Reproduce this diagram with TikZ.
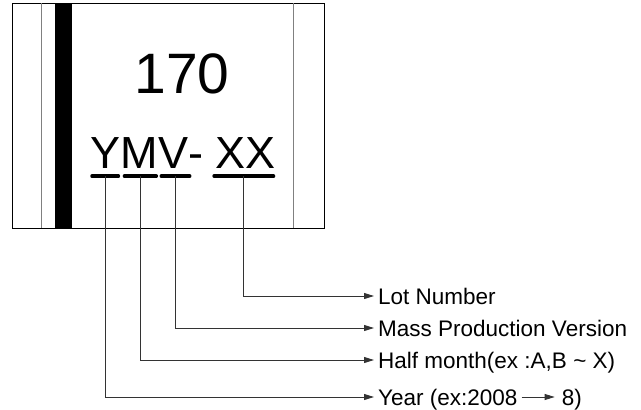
\documentclass[tikz,border=0pt]{standalone}
\usepackage{fontspec}
\setmainfont{Liberation Sans}
\usetikzlibrary{arrows.meta,positioning}
\begin{document}
\begin{tikzpicture}[x=1pt,y=-1pt,
  lead/.style={draw=black!80,line width=0.9pt,-{Triangle[length=10pt,width=6pt]}},
  uline/.style={line width=3.5pt,line cap=round},
  lbl/.style={anchor=west,inner xsep=4pt,inner ysep=0pt,text height=16pt,text depth=0pt,font=\fontsize{22.5}{27}\selectfont},
  big/.style={inner sep=0pt,anchor=base west,font=\fontsize{45}{54}\selectfont}]
\useasboundingbox (0,0) rectangle (641,410);

% package outline
\draw[line width=1pt] (12,3) rectangle (324,228);
\draw[gray,line width=1pt] (41,3)--(41,228) (293,3)--(293,228);
\fill (55,3) rectangle (72,228);

\node[inner sep=0pt,anchor=base,font=\fontsize{57}{68}\selectfont] (num) at (182,93) {170};

% marking code
\node[big] (y) at (90,168) {Y};
\node[big] (m) at (y.base east) {M};
\node[big] (v) at (m.base east) {V};
\node[big] (dash) at (v.base east) {-};
\node[big,xshift=11pt] (xx) at (dash.base east) {XX};

\draw[uline] ([shift={(2,8)}]y.south west)--([shift={(-2,8)}]y.south east) coordinate[midway] (uy);
\draw[uline] ([shift={(4,8)}]m.south west)--([shift={(-2,8)}]m.south east) coordinate[midway] (um);
\draw[uline] ([shift={(3,8)}]v.south west)--([shift={(1,8)}]v.south east) coordinate[midway] (uv);
\draw[uline] ([shift={(-1,8)}]xx.south west)--([shift={(-2,8)}]xx.south east) coordinate[midway] (ux);

% legend
\node[lbl] (lot) at (374,296) {Lot Number};
\node[lbl] (mass) at (374,328) {Mass Production Version};
\node[lbl] (half) at (374,360) {Half month(ex :A,B \textasciitilde{} X)};
\node[lbl] (year) at (374,397) {Year (ex:2008};
\node[lbl,right=36pt of year] (eight) {8)};

\draw[lead] (ux) |- (lot.west);
\draw[lead] (uv) |- (mass.west);
\draw[lead] (um) |- (half.west);
\draw[lead] (uy) |- (year.west);
\draw[lead,shorten >=3pt] (year) -- (eight);

\end{tikzpicture}
\end{document}
